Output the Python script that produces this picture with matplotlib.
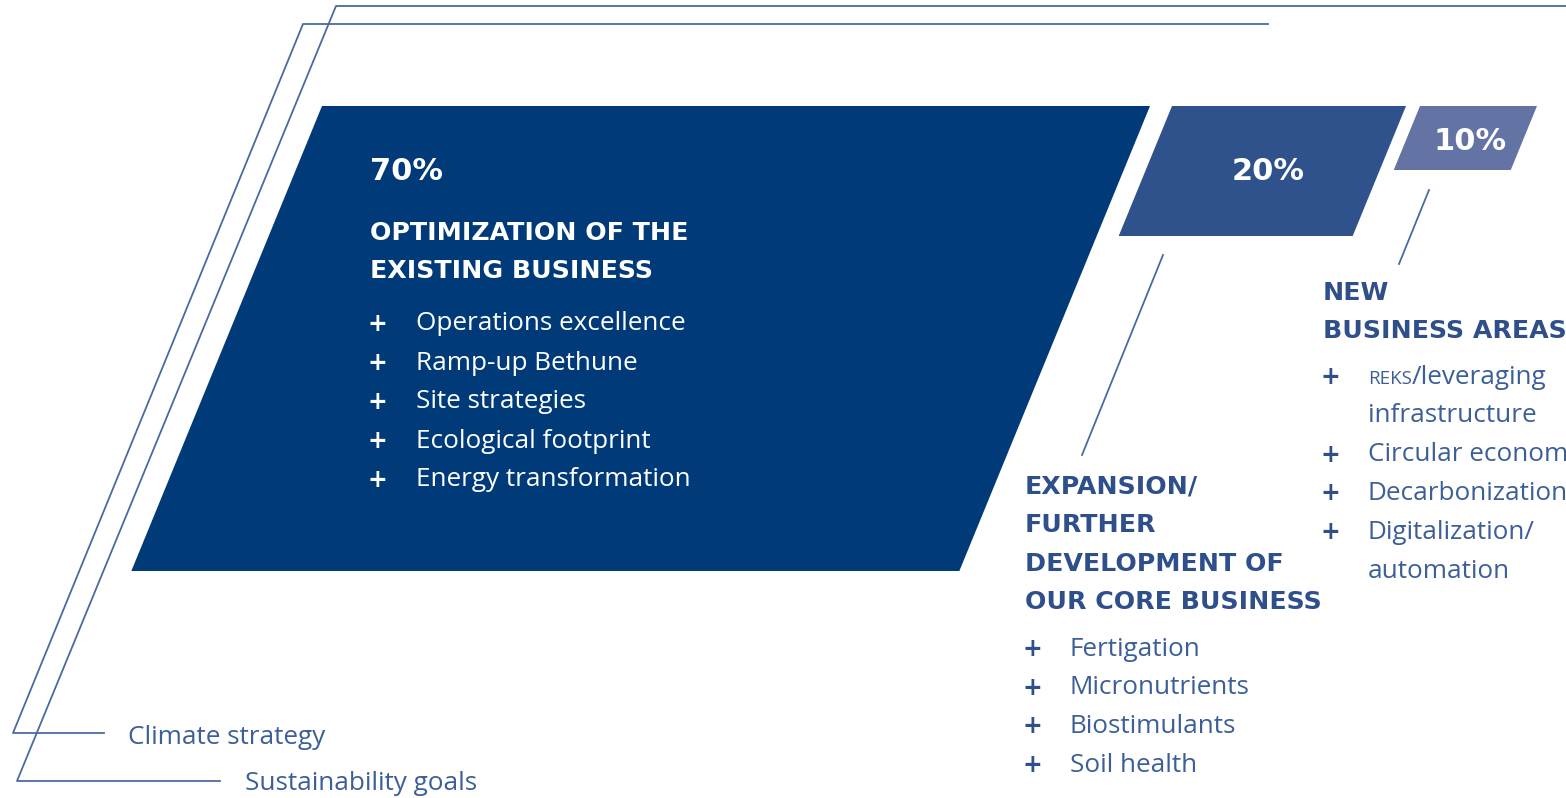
import matplotlib.pyplot as plt
from matplotlib.patches import Polygon

# shares of the three business fields
shares = [70, 20, 10]
share_labels = ["70%", "20%", "10%"]
colors = ["#003a78", "#2f528c", "#6373a4"]

heading_70 = ["OPTIMIZATION OF THE", "EXISTING BUSINESS"]
items_70 = ["Operations excellence", "Ramp-up Bethune", "Site strategies",
            "Ecological footprint", "Energy transformation"]

heading_20 = ["EXPANSION/", "FURTHER", "DEVELOPMENT OF", "OUR CORE BUSINESS"]
items_20 = ["Fertigation", "Micronutrients", "Biostimulants", "Soil health"]

heading_10 = ["NEW", "BUSINESS AREAS"]
items_10 = [("REKS", "/leveraging"), "infrastructure", "Circular economy",
            "Decarbonization", "Digitalization/", "automation"]
plus_10 = [True, False, True, True, True, False]

frame_labels = ["Climate strategy", "Sustainability goals"]

line_c = "#4a6aa0"
dark_txt = "#2f4f8a"
item_txt = "#3c5f98"
head_font = "DejaVu Sans"
body_font = "Open Sans"
hs = 18.2   # heading size
bs = 18.8   # body size

fig = plt.figure(figsize=(15.66, 7.98), dpi=100)
ax = fig.add_axes([0, 0, 1, 1])
ax.set_xlim(0, 1566)
ax.set_ylim(798, 0)
ax.axis("off")

slope = 0.41  # x shift per px of height

def para(x_top, y_top, width, height, color):
    x_bot = x_top - slope * height
    pts = [(x_top, y_top), (x_top + width, y_top),
           (x_bot + width, y_top + height), (x_bot, y_top + height)]
    ax.add_patch(Polygon(pts, closed=True, color=color, lw=0))

para(322, 106, 828, 465, colors[0])
para(1172, 106, 234, 130, colors[1])
para(1420, 106, 117, 64, colors[2])

# frame lines
ax.plot([1268, 303, 13, 104], [24, 24, 733, 733], color=line_c, lw=1.3)
ax.plot([1566, 336, 17, 220], [6, 6, 781, 781], color=line_c, lw=1.3)
ax.text(128, 737, frame_labels[0], color=item_txt, fontsize=bs, family=body_font,
        va="center")
ax.text(245, 784, frame_labels[1], color=item_txt, fontsize=bs, family=body_font,
        va="center")

# leader lines
ax.plot([1163, 1082], [255, 455], color=line_c, lw=1.3)
ax.plot([1429, 1399], [190, 264], color=line_c, lw=1.3)

# 70% block
ax.text(370, 172, share_labels[0], color="white", fontsize=22, weight="bold",
        family=head_font, va="center")
for i, h in enumerate(heading_70):
    ax.text(370, 233 + 38.5 * i, h, color="white", fontsize=hs, weight="bold",
            family=head_font, va="center")
for i, it in enumerate(items_70):
    y = 324 + 39 * i
    ax.text(377, y, "+", color="white", fontsize=17, weight="bold",
            family=head_font, va="center", ha="center")
    ax.text(416, y, it, color="white", fontsize=bs, family=body_font,
            va="center")

# 20% and 10% labels
ax.text(1268, 172, share_labels[1], color="white", fontsize=22, weight="bold",
        family=head_font, va="center", ha="center")
ax.text(1470, 141, share_labels[2], color="white", fontsize=22, weight="bold",
        family=head_font, va="center", ha="center")

# 20% text column
for i, h in enumerate(heading_20):
    ax.text(1025, 486 + 38.8 * i, h, color=dark_txt, fontsize=hs, weight="bold",
            family=head_font, va="center")
for i, it in enumerate(items_20):
    y = 649 + 38.7 * i
    ax.text(1032, y, "+", color=dark_txt, fontsize=17, weight="bold",
            family=head_font, va="center", ha="center")
    ax.text(1070, y, it, color=item_txt, fontsize=bs, family=body_font,
            va="center")

# 10% text column
for i, h in enumerate(heading_10):
    ax.text(1323, 293 + 38 * i, h, color=dark_txt, fontsize=hs, weight="bold",
            family=head_font, va="center")
fig.canvas.draw()
r = fig.canvas.get_renderer()
for i, it in enumerate(items_10):
    y = 377 + 38.8 * i
    if plus_10[i]:
        ax.text(1330, y, "+", color=dark_txt, fontsize=17, weight="bold",
                family=head_font, va="center", ha="center")
    if isinstance(it, tuple):
        t = ax.text(1368, y + 1.5, it[0], color=item_txt, fontsize=13.5,
                    family=body_font, va="center")
        bb = t.get_window_extent(renderer=r)
        x_end = ax.transData.inverted().transform((bb.x1, bb.y0))[0]
        ax.text(x_end, y, it[1], color=item_txt, fontsize=bs,
                family=body_font, va="center")
    else:
        ax.text(1368, y, it, color=item_txt, fontsize=bs, family=body_font,
                va="center")

fig.savefig("out.png", dpi=100)
